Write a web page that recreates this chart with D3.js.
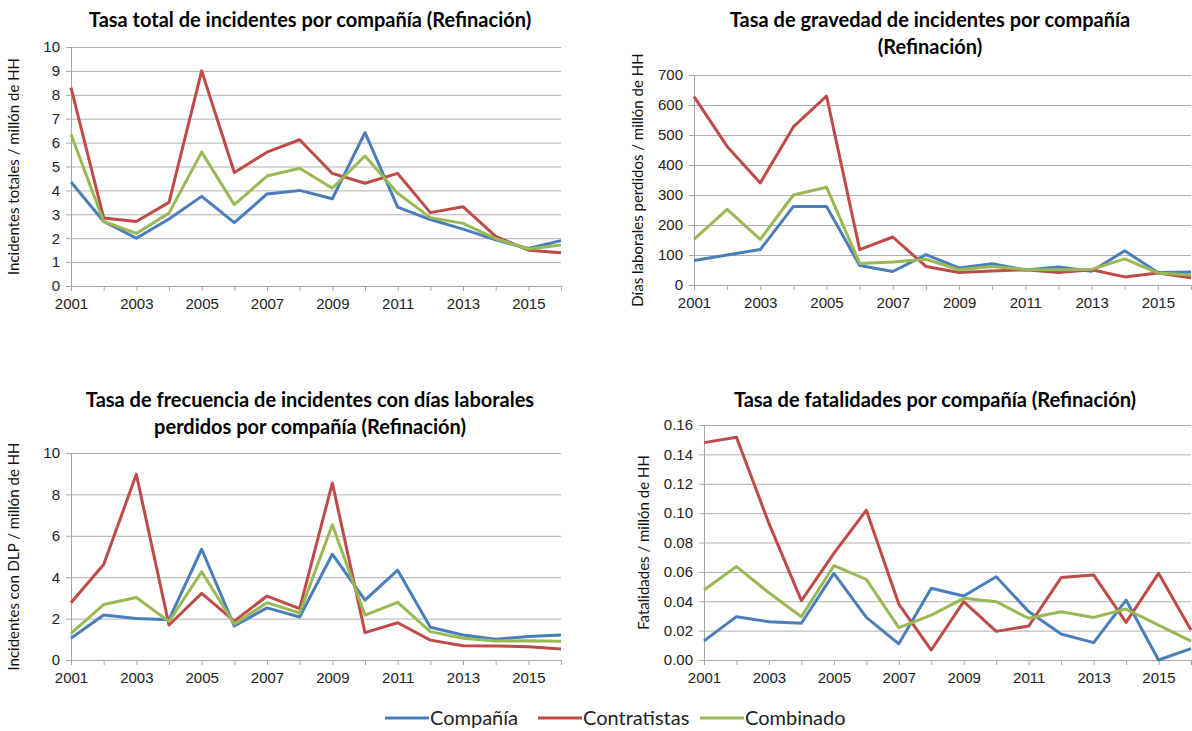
<!DOCTYPE html>
<html>
<head>
<meta charset="utf-8">
<script src="https://cdn.jsdelivr.net/npm/d3@7"></script>
<style>
  body { margin: 0; background: #fff; }
  svg { font-family: Lato, "Open Sans", sans-serif; }
  .grid line { stroke: #b0b0b0; stroke-width: 1; }
  .grid path { display: none; }
  .axis path, .axis line { stroke: #a6a6a6; }
  .axis text { fill: #222; font-size: 15px; }
  .title { font-weight: bold; font-size: 20px; fill: #000; text-anchor: middle; }
  .ylabel { font-size: 15px; fill: #111; text-anchor: middle; }
</style>
</head>
<body>
<div id="chart"></div>
<script>
var years = d3.range(2001, 2017),
    seriesNames = ["Compañía", "Contratistas", "Combinado"],
    colors = ["#4a7ebb", "#be4b48", "#98b954"];

// Tasa total de incidentes
var totalCompania = [4.35, 2.7, 2.0, 2.8, 3.75, 2.65, 3.85, 4.0, 3.65, 6.42, 3.3, 2.78, 2.38, 1.93, 1.57, 1.9],
    totalContratistas = [8.3, 2.85, 2.7, 3.5, 9.0, 4.75, 5.6, 6.12, 4.71, 4.3, 4.71, 3.07, 3.32, 2.08, 1.5, 1.39],
    totalCombinado = [6.35, 2.7, 2.2, 3.05, 5.6, 3.4, 4.6, 4.93, 4.09, 5.44, 3.88, 2.86, 2.62, 1.98, 1.55, 1.72];

// Tasa de gravedad
var gravCompania = [82, 100, 118, 262, 262, 65, 45, 101, 57, 71, 50, 60, 46, 114, 42, 43],
    gravContratistas = [628, 462, 340, 527, 630, 118, 160, 62, 42, 47, 51, 42, 51, 27, 40, 24],
    gravCombinado = [152, 252, 152, 300, 326, 72, 77, 86, 51, 62, 52, 51, 52, 87, 40, 33];

// Tasa de frecuencia con DLP
var dlpCompania = [1.05, 2.17, 2.0, 1.95, 5.35, 1.64, 2.52, 2.08, 5.11, 2.89, 4.34, 1.58, 1.21, 1.0, 1.13, 1.21],
    dlpContratistas = [2.77, 4.61, 8.97, 1.69, 3.22, 1.88, 3.09, 2.48, 8.55, 1.32, 1.8, 0.96, 0.69, 0.68, 0.64, 0.53],
    dlpCombinado = [1.29, 2.68, 3.02, 1.86, 4.26, 1.74, 2.77, 2.27, 6.53, 2.17, 2.78, 1.37, 1.05, 0.92, 0.93, 0.9];

// Tasa de fatalidades
var fatCompania = [0.013, 0.0295, 0.026, 0.025, 0.059, 0.029, 0.011, 0.0488, 0.0436, 0.0567, 0.033, 0.0177, 0.0118, 0.0408, 0.0, 0.0077],
    fatContratistas = [0.148, 0.1516, 0.093, 0.0404, 0.0726, 0.102, 0.0381, 0.0068, 0.0397, 0.0195, 0.0231, 0.0561, 0.0579, 0.0256, 0.059, 0.0204],
    fatCombinado = [0.0477, 0.0636, 0.0458, 0.0295, 0.0642, 0.0549, 0.022, 0.0306, 0.042, 0.0397, 0.0284, 0.0329, 0.029, 0.0347, 0.0238, 0.0129];

var xTickLabels = [2001, 2003, 2005, 2007, 2009, 2011, 2013, 2015];

var svg = d3.select("#chart").append("svg")
    .attr("width", 1192)
    .attr("height", 731);

var panels = [
  { title: ["Tasa total de incidentes por compañía (Refinación)"], titleY: 27, titleX: 310,
    ylabel: "Incidentes totales / millón de HH", ylabelX: 19,
    left: 71, right: 561, top: 47, bottom: 286,
    domain: [0, 10], ticks: d3.range(0, 11, 1), fmt: d3.format("d"),
    data: [totalCompania, totalContratistas, totalCombinado] },
  { title: ["Tasa de gravedad de incidentes por compañía", "(Refinación)"], titleY: 27, titleX: 930,
    ylabel: "Días laborales perdidos / millón de HH", ylabelX: 643,
    left: 694, right: 1191, top: 75, bottom: 285,
    domain: [0, 700], ticks: d3.range(0, 701, 100), fmt: d3.format("d"),
    data: [gravCompania, gravContratistas, gravCombinado] },
  { title: ["Tasa de frecuencia de incidentes con días laborales", "perdidos por compañía (Refinación)"], titleY: 407, titleX: 310,
    ylabel: "Incidentes con DLP / millón de HH", ylabelX: 19,
    left: 71, right: 561, top: 453, bottom: 660,
    domain: [0, 10], ticks: d3.range(0, 11, 2), fmt: d3.format("d"),
    data: [dlpCompania, dlpContratistas, dlpCombinado] },
  { title: ["Tasa de fatalidades por compañía (Refinación)"], titleY: 407, titleX: 935,
    ylabel: "Fatalidades / millón de HH", ylabelX: 649,
    left: 704, right: 1191, top: 425, bottom: 660,
    domain: [0, 0.16], ticks: d3.range(0, 9).map(function(i) { return i * 0.02; }), fmt: d3.format(".2f"),
    data: [fatCompania, fatContratistas, fatCombinado] }
];

panels.forEach(function(p) {
  var x = d3.scaleLinear().domain([2001, 2016]).range([p.left, p.right]);
  var y = d3.scaleLinear().domain(p.domain).range([p.bottom, p.top]);
  var g = svg.append("g");

  // gridlines
  g.append("g")
      .attr("class", "grid")
      .attr("transform", "translate(" + p.left + ",0)")
      .call(d3.axisLeft(y).tickValues(p.ticks.slice(1)).tickSize(-(p.right - p.left)).tickFormat(""));

  // y axis
  g.append("g")
      .attr("class", "axis axis-y")
      .attr("transform", "translate(" + p.left + ",0)")
      .call(d3.axisLeft(y).tickValues(p.ticks).tickSizeInner(5).tickSizeOuter(0).tickPadding(6).tickFormat(p.fmt));

  // x axis
  g.append("g")
      .attr("class", "axis axis-x")
      .attr("transform", "translate(0," + p.bottom + ")")
      .call(d3.axisBottom(x).tickValues(years).tickSizeInner(5).tickSizeOuter(0).tickPadding(7)
        .tickFormat(function(d) { return xTickLabels.indexOf(d) >= 0 ? d : ""; }));

  var line = d3.line()
      .x(function(d, i) { return x(years[i]); })
      .y(function(d) { return y(d); });

  p.data.forEach(function(s, i) {
    g.append("path")
        .datum(s)
        .attr("fill", "none")
        .attr("stroke", colors[i])
        .attr("stroke-width", 3)
        .attr("stroke-linejoin", "round")
        .attr("d", line);
  });

  g.selectAll(".title-line")
      .data(p.title)
    .enter().append("text")
      .attr("class", "title")
      .attr("x", p.titleX)
      .attr("y", function(d, i) { return p.titleY + i * 27; })
      .text(function(d) { return d; });

  g.append("text")
      .attr("class", "ylabel")
      .attr("transform", "translate(" + p.ylabelX + "," + ((p.top + p.bottom) / 2) + ") rotate(-90)")
      .text(p.ylabel);
});

// legend
var legendX = [385, 538, 700];
var legend = svg.selectAll(".legend")
    .data(seriesNames)
  .enter().append("g")
    .attr("class", "legend")
    .attr("transform", function(d, i) { return "translate(" + legendX[i] + ",718)"; });

legend.append("line")
    .attr("x1", 0).attr("x2", 44)
    .attr("stroke", function(d, i) { return colors[i]; })
    .attr("stroke-width", 3);

legend.append("text")
    .attr("x", 45)
    .attr("y", 7)
    .attr("font-size", 20)
    .attr("fill", "#222")
    .text(function(d) { return d; });
</script>
</body>
</html>
